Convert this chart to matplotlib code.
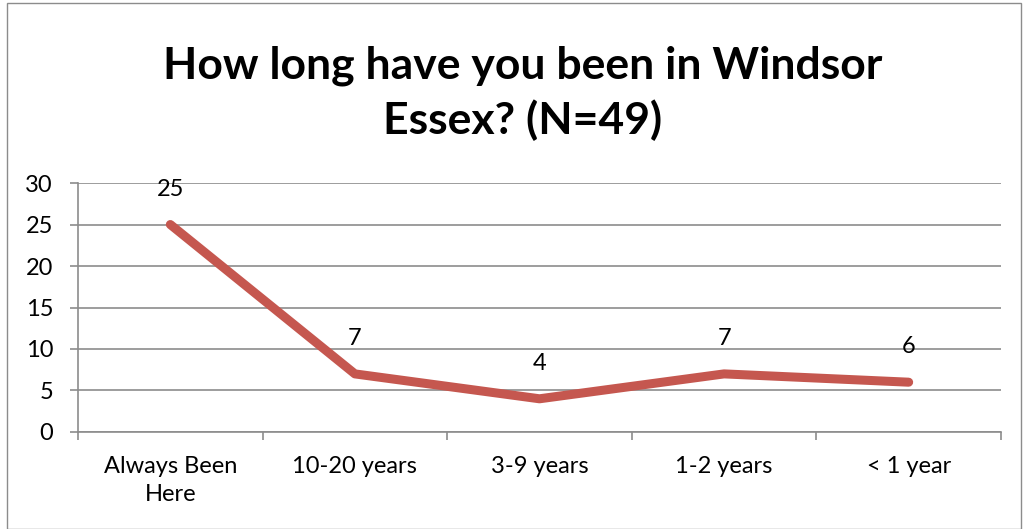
import matplotlib
matplotlib.use("Agg")
import matplotlib.pyplot as plt
from matplotlib.patches import Rectangle
import numpy as np

# data
categories = ["Always Been\nHere", "10-20 years", "3-9 years", "1-2 years", "< 1 year"]
counts = [25, 7, 4, 7, 6]
y_ticks = [0, 5, 10, 15, 20, 25, 30]

plt.rcParams['font.family'] = ['Lato', 'DejaVu Sans']

fig = plt.figure(figsize=(10.24, 5.29), dpi=100)
ax = fig.add_axes([0.0762, 0.1834, 0.9013, 0.4706])

grid_col = "#8c8c8c"
line_col = "#C5574F"

x = np.arange(len(categories))
ax.plot(x, counts, color=line_col, lw=6.5, solid_capstyle='round', solid_joinstyle='round', zorder=3)
for xi, v in zip(x, counts):
    ax.annotate(str(v), (xi, v), xytext=(0, 18), textcoords='offset points',
                ha='center', va='bottom', fontsize=17)

ax.set_xlim(-0.5, len(categories) - 0.5)
ax.set_ylim(0, 30)
ax.set_yticks(y_ticks)
ax.yaxis.grid(True, color=grid_col, lw=1.2)
ax.set_axisbelow(True)

# category labels centred, tick marks at the boundaries
ax.set_xticks(x)
ax.set_xticklabels(categories, fontsize=17, linespacing=1.45)
ax.tick_params(axis='x', length=0, pad=17)
ax.set_xticks(np.arange(-0.5, len(categories)), minor=True)
ax.tick_params(axis='x', which='minor', length=6, width=1.2, color=grid_col)
ax.tick_params(axis='y', length=6, width=1.2, color=grid_col, labelsize=17, pad=12)

for s in ['top', 'right']:
    ax.spines[s].set_visible(False)
for s in ['left', 'bottom']:
    ax.spines[s].set_color(grid_col)
    ax.spines[s].set_linewidth(1.2)

fig.text(0.51, 0.823, "How long have you been in Windsor\nEssex? (N=49)", ha='center', va='center',
         fontsize=32, fontweight='bold', linespacing=1.38)

fig.patches.append(Rectangle((0.007, 0.0), 0.99, 0.994, transform=fig.transFigure,
                             fill=False, edgecolor="#8c8c8c", lw=1))

fig.savefig("out.png", dpi=100)
